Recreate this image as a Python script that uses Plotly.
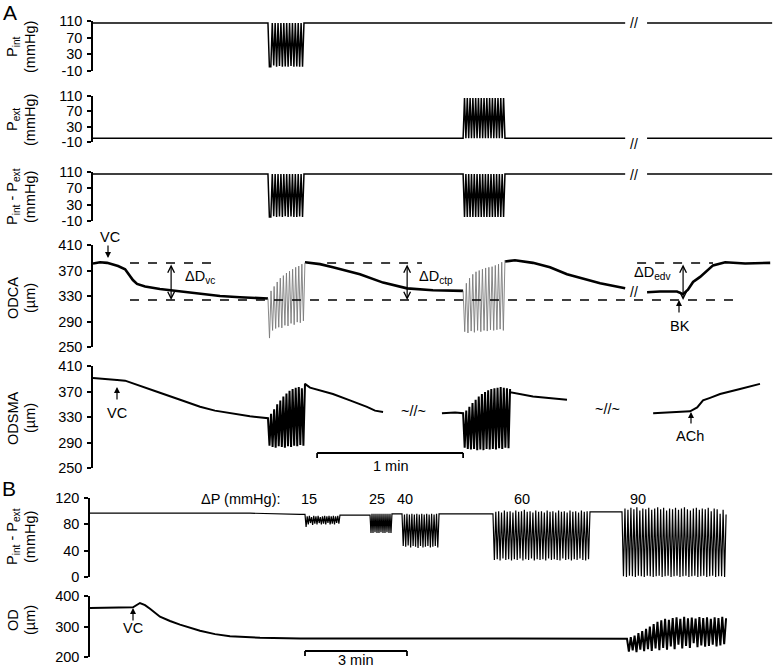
import numpy as np
import plotly.graph_objects as go

W, H = 774, 668
FONT = "Liberation Sans, Arial, sans-serif"

# ======================= DATA =======================
# ---- Panel A (time in s) ----
A_BURST1 = (71.9, 86.7)      # first pressure-step window
A_BURST2 = (152.1, 169.3)    # second pressure-step window
A_BREAK = (218.7, 227.7)     # time break (//)
A_END = 279.1

PINT_BASE = 105
PEXT_BASE = 0
PINT_BURST = [105, 0, 0, 105, 3, 105, 0, 105, 2, 105, 0, 105, 1, 105, 0, 105, 2, 105,
              0, 105, 1, 105, 0, 105, 0, 105]
PEXT_BURST = [0, 105, 0, 105, 0, 105, 0, 105, 0, 105, 0, 105, 0, 105, 0, 105, 0, 105,
              0, 105, 0, 105, 0, 105, 0, 105, 0, 105, 0, 105, 0]
PDIFF_BURST1 = [105, 0, 0, 105, 2, 105, 0, 105, 1, 105, 0, 105, 2, 105, 0, 105, 1, 105,
                0, 105, 0, 105, 1, 105, 0, 105]
PDIFF_BURST2 = [105, 0, 105, 0, 105, 0, 105, 0, 105, 0, 105, 0, 105, 0, 105, 0, 105, 0,
                105, 0, 105, 0, 105, 0, 105, 0, 105, 0, 105, 0, 105]

# ODCA (µm)
ODCA_T1 = [0, 2.9, 5.8, 7.8, 10.3, 13.2, 15.2, 16.4, 18.1, 21.4, 27.5, 35.8, 44.0, 52.2, 60.4, 71.9]
ODCA_V1 = [381, 383, 382, 380, 377, 372, 362, 355, 349, 345, 341, 337, 333, 330, 328, 326]
ODCA_BURST1 = [326, 264, 338, 276, 345, 279, 352, 281, 358, 280, 362, 284, 366, 283, 369, 287,
               372, 285, 375, 289, 377, 288, 380, 291, 382]
ODCA_T2 = [87.1, 93.3, 98.6, 109.7, 119.2, 129.1, 139.7, 152.1]
ODCA_V2 = [383, 380, 375, 364, 351, 342, 339, 338]
ODCA_BURST2 = [338, 274, 350, 272, 358, 275, 364, 273, 368, 276, 370, 274, 372, 276, 374, 275,
               375, 277, 376, 276, 378, 277, 380, 278, 383, 276, 386]
ODCA_T3 = [169.3, 173.4, 180.8, 187.8, 194.8, 202.2, 208.4, 218.7]
ODCA_V3 = [384, 386, 382, 375, 364, 356, 350, 342]
ODCA_T4 = [227.7, 233.0, 240.0, 242.5, 244.5, 246.6, 249.5, 254.8, 259.8, 268.0, 278.3]
ODCA_V4 = [336, 337, 337, 333, 340, 352, 360, 378, 383, 381, 382]
ODCA_REF = [381.8, 323.7]   # dashed reference levels

# ODSMA (µm)
ODSMA_T1 = [0, 4.9, 9.9, 13.2, 16.4, 21.4, 27.5, 35.8, 44.0, 50.1, 56.3, 64.5, 71.9]
ODSMA_V1 = [391, 390, 388, 387, 383, 376, 368, 357, 346, 340, 336, 331, 328]
ODSMA_BURST1 = [328, 285, 335, 283, 342, 282, 350, 284, 356, 283, 362, 282, 367, 284, 371, 283,
                374, 285, 376, 284, 377, 286, 375, 285, 378]
ODSMA_T2 = [87.1, 89.2, 93.3, 98.6, 105.6, 112.6, 115.9, 119.2]
ODSMA_V2 = [382, 376, 372, 366, 356, 346, 340, 338]
ODSMA_T3 = [143.4, 148.8, 152.1]
ODSMA_V3 = [336, 337, 336]
ODSMA_BURST2 = [336, 282, 340, 280, 346, 279, 352, 280, 357, 278, 362, 279, 366, 278, 369, 280,
                372, 279, 374, 280, 375, 279, 376, 281, 377, 280, 376, 282, 375, 281, 374]
ODSMA_T4 = [171.4, 180.8, 187.8, 194.8]
ODSMA_V4 = [369, 362, 360, 357]
ODSMA_T5 = [230.2, 237.2, 245.4, 248.3, 250.7, 253.6, 257.7, 265.9, 274.1]
ODSMA_V5 = [336, 337, 339, 345, 356, 360, 366, 374, 382]

# ---- Panel B (time in s) ----
B_T_BASE = [0, 105.9, 194.1, 282.3, 370.6, 379.4]
B_V_BASE = [97, 97, 97.5, 97, 95, 95]
B_STEPS = [(379.4, 441.1), (494.1, 532.9), (550.6, 615.9), (711.1, 882.3), (938.8, 1122.5)]
B_BETWEEN_V = [94, 96, 96, 99]
B_BURST15 = [95, 76, 92, 80, 93, 82, 91, 79, 93, 81, 92, 80, 93, 82, 91, 80, 92, 81, 93, 80,
             92, 82, 93, 80, 92, 81, 93, 80, 92, 82, 93, 81, 92]
B_BURST25 = [95, 67, 96, 67, 96, 68, 96, 67, 96, 67, 96, 68, 96, 67, 96, 67, 96, 68, 96, 67,
             96, 67, 96]
B_BURST40 = [96, 47, 95, 46, 96, 48, 95, 45, 96, 47, 95, 46, 96, 44, 95, 47, 96, 45, 95, 46,
             96, 47, 95, 45, 96, 46, 95, 47, 96, 45, 95]
B_BURST60 = [96, 26, 99, 27, 100, 25, 98, 28, 101, 26, 99, 27, 100, 25, 98, 27, 101, 26, 99, 28,
             100, 25, 102, 27, 99, 26, 100, 28, 98, 25, 101, 27, 99, 26, 100, 27, 98, 25, 101, 28,
             99, 26, 100, 27, 98, 26, 101, 25, 99, 28, 100, 26, 98, 27, 101, 25, 99, 27, 100, 26,
             98, 28, 101, 26, 99, 25, 100, 27, 99]
B_BURST90 = [99, 1, 104, 0, 102, 2, 105, 1, 103, 0, 106, 2, 101, 1, 104, 0, 103, 2, 105, 1,
             102, 0, 104, 1, 106, 2, 103, 0, 105, 1, 101, 2, 104, 0, 103, 1, 105, 2, 102, 0,
             104, 1, 106, 2, 103, 0, 101, 1, 104, 2, 105, 0, 102, 1, 104, 2, 103, 0, 105, 1,
             100, 2, 104, 0, 103, 1, 96, 1, 102, 0, 95]
DP_LABELS = ["15", "25", "40", "60", "90"]

OD_T1 = [0, 35.3, 61.8, 75.9, 88.2, 97.1, 105.9, 123.5, 141.2, 158.8, 194.1, 220.6, 247.0,
         300.0, 370.6, 547.0, 723.5, 900.0, 947.6]
OD_V1 = [361, 361, 362, 363, 377, 370, 358, 332, 318, 306, 286, 275, 268, 263, 261, 260, 260,
         260, 260]
OD_BURST = [260, 218, 265, 222, 270, 216, 278, 224, 285, 219, 292, 226, 300, 220, 308, 228,
            315, 222, 320, 230, 325, 224, 322, 235, 328, 226, 330, 240, 325, 228, 332, 236,
            327, 230, 329, 245, 326, 232, 331, 238, 328, 234, 330, 236, 325, 240, 330, 235,
            328, 238, 332, 242, 327]

SCALE_A = (92.1, 60)    # 1 min bar: start (s), length (s)
SCALE_B = (379.4, 180)  # 3 min bar

# ======================= HELPERS =======================
def burst(t0, t1, vals):
    return list(np.linspace(t0, t1, len(vals))), list(vals)

def join(*segs):
    ts, vs = [], []
    for s in segs:
        if s is None:
            ts.append(None); vs.append(None)
        else:
            ts += list(s[0]); vs += list(s[1])
    return ts, vs

def flat(t0, t1, v):
    return [t0, t1], [v, v]

def P(x, y):
    return x / W, 1 - y / H

# ======================= LAYOUT GEOMETRY =======================
AX_A_X0, AX_B_X0 = 93, 90
A_PX_PER_S = 146 / 60.0
B_PX_PER_S = 102 / 180.0
A_RANGE = [0, (W - AX_A_X0) / A_PX_PER_S]
B_RANGE = [0, (W - AX_B_X0) / B_PX_PER_S]

YAX = [
    (21, 71, [-10, 110], [-10, 30, 70, 110]),
    (96, 142, [-10, 110], [-10, 30, 70, 110]),
    (172, 221, [-10, 110], [-10, 30, 70, 110]),
    (245, 347, [250, 410], [250, 290, 330, 370, 410]),
    (366, 468, [250, 410], [250, 290, 330, 370, 410]),
    (498, 577, [0, 120], [0, 40, 80, 120]),
    (596, 657, [200, 400], [200, 300, 400]),
]
TICK_SIZE = 14.5
TXT_SIZE = 14.5

fig = go.Figure()
layout = dict(width=W, height=H,
              margin=dict(l=0, r=0, t=0, b=0, pad=0, autoexpand=False), autosize=False,
              paper_bgcolor="white", plot_bgcolor="white", showlegend=False,
              font=dict(family=FONT, color="black", size=TXT_SIZE))

for i, (top, bot, rng, tv) in enumerate(YAX, start=1):
    x0 = AX_A_X0 if i <= 5 else AX_B_X0
    xr = A_RANGE if i <= 5 else B_RANGE
    layout[f"xaxis{i}"] = dict(domain=[x0 / W, 1], range=xr, visible=False,
                               anchor=f"y{i}", fixedrange=True)
    layout[f"yaxis{i}"] = dict(domain=[1 - bot / H, 1 - top / H], range=rng, anchor=f"x{i}",
                               tickvals=tv, ticktext=[str(v) for v in tv],
                               showline=True, linecolor="black", linewidth=1.5,
                               ticks="outside", ticklen=4, tickwidth=1.5, tickcolor="black",
                               showgrid=False, zeroline=False, fixedrange=True,
                               automargin=False, ticklabelstandoff=2,
                               tickfont=dict(size=TICK_SIZE, family=FONT, color="black"))
fig.update_layout(**layout)

def add(ts, vs, ax, color="black", width=1.5):
    fig.add_trace(go.Scatter(x=ts, y=vs, mode="lines", xaxis=f"x{ax}", yaxis=f"y{ax}",
                             line=dict(color=color, width=width), hoverinfo="skip",
                             connectgaps=False))

b1, b2, brk = A_BURST1, A_BURST2, A_BREAK
add(*join(flat(0, b1[0], PINT_BASE), burst(*b1, PINT_BURST), flat(b1[1], brk[0], PINT_BASE),
          None, flat(brk[1], A_END, PINT_BASE)), 1)
add(*join(flat(0, b2[0], PEXT_BASE), burst(*b2, PEXT_BURST), flat(b2[1], brk[0], PEXT_BASE),
          None, flat(brk[1], A_END, PEXT_BASE)), 2)
add(*join(flat(0, b1[0], PINT_BASE), burst(*b1, PDIFF_BURST1), flat(b1[1], b2[0], PINT_BASE),
          burst(*b2, PDIFF_BURST2), flat(b2[1], brk[0], PINT_BASE),
          None, flat(brk[1], A_END, PINT_BASE)), 3)
add(*join((ODCA_T1, ODCA_V1), None, (ODCA_T2, ODCA_V2), None, (ODCA_T3, ODCA_V3), None,
          (ODCA_T4, ODCA_V4)), 4, width=2.6)
add(*join(burst(b1[0], ODCA_T2[0], ODCA_BURST1), None, burst(b2[0], ODCA_T3[0], ODCA_BURST2)),
    4, color="#7a7a7a", width=0.9)
add(*join((ODSMA_T1, ODSMA_V1), burst(b1[0], ODSMA_T2[0], ODSMA_BURST1), (ODSMA_T2, ODSMA_V2),
          None, (ODSMA_T3, ODSMA_V3), burst(b2[0], ODSMA_T4[0], ODSMA_BURST2),
          (ODSMA_T4, ODSMA_V4), None, (ODSMA_T5, ODSMA_V5)), 5, width=2.0)

segs = [(B_T_BASE, B_V_BASE)]
bursts_B = [B_BURST15, B_BURST25, B_BURST40, B_BURST60, B_BURST90]
for k, (s, e) in enumerate(B_STEPS):
    segs.append(burst(s, e, bursts_B[k]))
    if k < len(B_BETWEEN_V):
        segs.append(flat(e, B_STEPS[k + 1][0], B_BETWEEN_V[k]))
add(*join(*segs), 6, width=1.2)
add(*join((OD_T1, OD_V1), burst(OD_T1[-1], B_STEPS[-1][1], OD_BURST)), 7, width=2.0)

shapes = []
def dline(t0, t1, v):
    shapes.append(dict(type="line", xref="x4", yref="y4", x0=t0, x1=t1, y0=v, y1=v,
                       line=dict(color="black", width=1.3, dash="dash")))
dline(15.2, 265.9, ODCA_REF[1])
dline(15.2, 49.3, ODCA_REF[0])
dline(96.2, 135.2, ODCA_REF[0])
dline(223.6, 254.8, ODCA_REF[0])

def t2paper(t, x0px, pxs):
    return (x0px + t * pxs) / W

def scalebar(start, length, x0px, pxs, ypx, tick=5):
    xa, xb = t2paper(start, x0px, pxs), t2paper(start + length, x0px, pxs)
    y = 1 - ypx / H
    yt = 1 - (ypx + tick) / H
    for (a, b, c, d) in [(xa, y, xb, y), (xa, y, xa, yt), (xb, y, xb, yt)]:
        shapes.append(dict(type="line", xref="paper", yref="paper", x0=a, y0=b, x1=c, y1=d,
                           line=dict(color="black", width=1.8)))
    return (xa + xb) / 2

ca = scalebar(*SCALE_A, AX_A_X0, A_PX_PER_S, 453)
cb = scalebar(*SCALE_B, AX_B_X0, B_PX_PER_S, 651)
fig.update_layout(shapes=shapes)

ann = []
def txt(x, y, s, size=TXT_SIZE, xanchor="center", angle=0):
    px_, py_ = P(x, y)
    ann.append(dict(x=px_, y=py_, xref="paper", yref="paper", text=s, showarrow=False,
                    xanchor=xanchor, yanchor="middle", textangle=angle,
                    font=dict(size=size, family=FONT, color="black")))

def arrow(x, yhead, ytail, head=2):
    px_, py_ = P(x, yhead)
    ann.append(dict(x=px_, y=py_, xref="paper", yref="paper", text="", showarrow=True,
                    ax=0, ay=ytail - yhead, axref="pixel", ayref="pixel",
                    arrowhead=head, arrowsize=1, arrowwidth=1.2, arrowcolor="black",
                    standoff=0))

def darrow(t, v0, v1):
    ann.append(dict(x=t, y=v1, xref="x4", yref="y4", ax=t, ay=v0, axref="x4", ayref="y4",
                    text="", showarrow=True, arrowhead=5, startarrowhead=5, arrowsize=1.1,
                    startarrowsize=1.1, arrowwidth=1.2, arrowcolor="black",
                    arrowside="end+start", standoff=0, startstandoff=0))

txt(10, 12, "A", size=21)
txt(9, 488, "B", size=21)
titles = [
    ("P<sub>int</sub>", "(mmHg)", 47),
    ("P<sub>ext</sub>", "(mmHg)", 120),
    ("P<sub>int</sub> - P<sub>ext</sub>", "(mmHg)", 197),
    ("ODCA", "(µm)", 298),
    ("ODSMA", "(µm)", 418),
    ("P<sub>int</sub> - P<sub>ext</sub>", "(mmHg)", 537),
    ("OD", "(µm)", 620),
]
for l1, l2, yc in titles:
    txt(13, yc, l1, angle=-90)
    txt(30, yc, l2, angle=-90)

txt(110, 237, "VC")
arrow(108, 258, 244)
darrow(32.1, ODCA_REF[0], ODCA_REF[1])
darrow(129.1, ODCA_REF[0], ODCA_REF[1])
darrow(242.5, ODCA_REF[0], ODCA_REF[1])
txt(183, 277, "ΔD<sub>vc</sub>", xanchor="left")
txt(417, 277, "ΔD<sub>ctp</sub>", xanchor="left")
txt(632, 273, "ΔD<sub>edv</sub>", xanchor="left")
txt(680, 326, "BK")
arrow(679, 300, 314)
for y in (22, 143, 174, 291):
    txt(634, y + 1, "//", size=14)
txt(117, 413, "VC")
arrow(117, 387, 401)
txt(413, 411, "~//~")
txt(607, 409, "~//~")
txt(690, 436, "ACh")
arrow(691, 412, 425)
txt(ca * W, 466, "1 min")
txt(cb * W, 660, "3 min")
txt(241, 499, "ΔP (mmHg):")
for lab, xx in zip(DP_LABELS, [309, 377, 405, 522, 638]):
    txt(xx, 499, lab)
txt(133, 628, "VC")
arrow(133, 608, 622)

fig.update_layout(annotations=ann)
fig.write_html("out.html", config={"displayModeBar": False},
               post_script="document.body.style.margin='0px';document.body.style.overflow='hidden';")
